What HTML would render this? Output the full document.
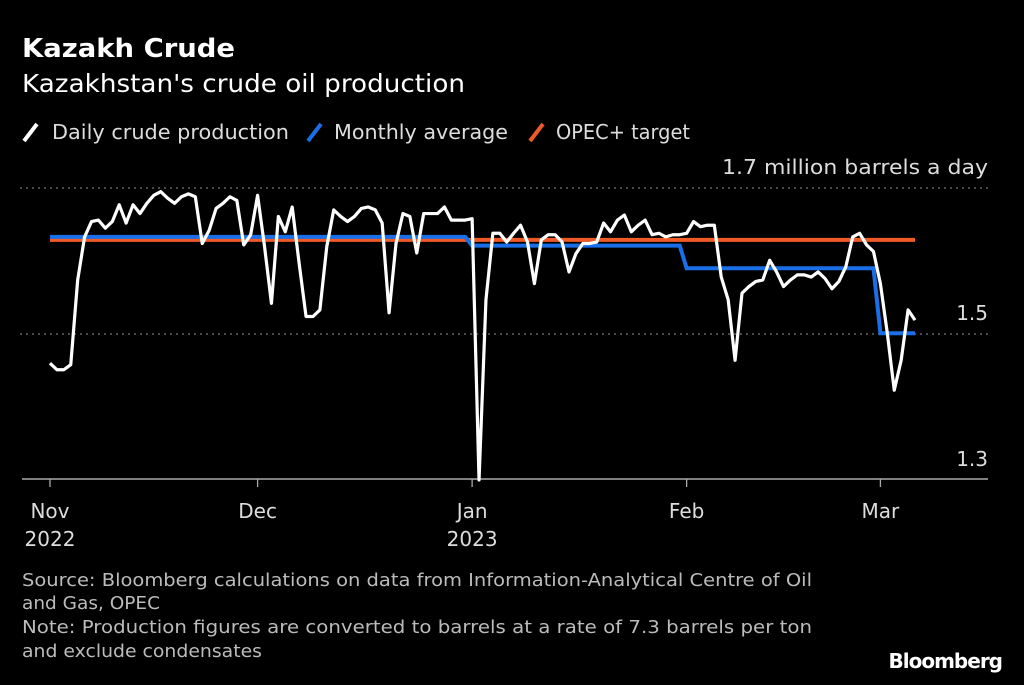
<!DOCTYPE html>
<html><head><meta charset="utf-8"><style>
body{margin:0;background:#000;width:1024px;height:681px;overflow:hidden;font-family:"DejaVu Sans","Liberation Sans",sans-serif;color:#fff}
svg text{font-family:"DejaVu Sans","Liberation Sans",sans-serif}
</style></head><body>
<svg id="chart" width="1024" height="681" viewBox="0 0 1024 681">
<text x="22" y="57" font-size="26" font-weight="bold" fill="#fff" textLength="213" lengthAdjust="spacingAndGlyphs">Kazakh Crude</text>
<text x="22" y="92" font-size="25" fill="#fff" textLength="443" lengthAdjust="spacingAndGlyphs">Kazakhstan's crude oil production</text>
<g>
<line x1="24" y1="141" x2="37" y2="124" stroke="#fff" stroke-width="4"/>
<text x="52" y="139" font-size="20" fill="#ddd" textLength="237" lengthAdjust="spacingAndGlyphs">Daily crude production</text>
<line x1="308" y1="141" x2="321" y2="124" stroke="#1a6fe8" stroke-width="4"/>
<text x="334" y="139" font-size="20" fill="#ddd" textLength="174" lengthAdjust="spacingAndGlyphs">Monthly average</text>
<line x1="530" y1="141" x2="543" y2="124" stroke="#f05a28" stroke-width="4"/>
<text x="556" y="139" font-size="20" fill="#ddd" textLength="134" lengthAdjust="spacingAndGlyphs">OPEC+ target</text>
</g>
<g id="grid"></g>
<g id="plot"></g>
<text font-size="18" fill="#bbb">
<tspan x="22" y="586" textLength="790" lengthAdjust="spacingAndGlyphs">Source: Bloomberg calculations on data from Information-Analytical Centre of Oil</tspan>
<tspan x="22" y="609" textLength="138" lengthAdjust="spacingAndGlyphs">and Gas, OPEC</tspan>
<tspan x="22" y="633" textLength="790" lengthAdjust="spacingAndGlyphs">Note: Production figures are converted to barrels at a rate of 7.3 barrels per ton</tspan>
<tspan x="22" y="657" textLength="240" lengthAdjust="spacingAndGlyphs">and exclude condensates</tspan>
</text>
<text x="1002" y="668" font-size="20" font-weight="bold" fill="#fff" text-anchor="end" letter-spacing="-1">Bloomberg</text>
</svg>
<script>
const daily=[1.460,1.451,1.451,1.458,1.574,1.633,1.654,1.656,1.645,1.654,1.677,1.652,1.677,1.665,1.679,1.690,1.695,1.686,1.679,1.688,1.692,1.688,1.624,1.642,1.672,1.679,1.688,1.683,1.622,1.636,1.690,1.620,1.542,1.661,1.640,1.674,1.597,1.524,1.524,1.533,1.620,1.670,1.661,1.654,1.661,1.672,1.674,1.670,1.652,1.529,1.624,1.665,1.661,1.611,1.665,1.665,1.665,1.674,1.656,1.656,1.656,1.658,1.300,1.547,1.638,1.638,1.626,1.638,1.649,1.626,1.569,1.629,1.636,1.636,1.626,1.585,1.610,1.624,1.624,1.626,1.652,1.640,1.656,1.663,1.640,1.649,1.656,1.636,1.638,1.633,1.636,1.636,1.638,1.654,1.647,1.649,1.649,1.578,1.547,1.464,1.556,1.565,1.572,1.574,1.601,1.585,1.565,1.574,1.581,1.581,1.578,1.585,1.576,1.562,1.572,1.592,1.633,1.638,1.622,1.613,1.569,1.501,1.423,1.464,1.533,1.519];
const monthStarts=[0,30,61,92,120];
const monthlyAvg=[1.633,1.633,1.621,1.590,1.501];
const opecTarget=1.629;
const yTicks=[1.3,1.5,1.7];
const yTickLabels=["1.3","1.5","1.7 million barrels a day"];
const xTickDays=[0,30,61,92,120];
const xTickLabels=["Nov","Dec","Jan","Feb","Mar"];
const xYearLabels=["2022","","2023","",""];
const NS="http://www.w3.org/2000/svg";
const X=d=>50+6.92*d;
const Y=v=>334-(v-1.5)*730;
function mk(tag,attrs,parent){const e=document.createElementNS(NS,tag);for(const k in attrs)e.setAttribute(k,attrs[k]);parent.appendChild(e);return e;}
const grid=document.getElementById('grid'),plot=document.getElementById('plot');
yTicks.forEach((t,i)=>{
  if(t>1.3){const l=mk('line',{x1:20,x2:988,y1:Y(t),y2:Y(t),stroke:'#777','stroke-width':1.3,'stroke-dasharray':'2 4'},grid);
  
  }
  const tx=mk('text',{x:988,y:Y(t)-14,'font-size':20,fill:'#ddd','text-anchor':'end'},grid);
  if(i===2){tx.setAttribute('textLength','266');tx.setAttribute('lengthAdjust','spacingAndGlyphs');}
  tx.textContent=yTickLabels[i];
  
  
});
const base=mk('line',{x1:22,x2:988,y1:479,y2:479,stroke:'#aaa','stroke-width':1.5},grid);


xTickDays.forEach((d,i)=>{
  const tk=mk('line',{x1:X(d),x2:X(d),y1:479,y2:487,stroke:'#aaa','stroke-width':1.3},grid);
  
  
  const t=mk('text',{x:X(d),y:518,'font-size':20,fill:'#ddd','text-anchor':'middle'},grid);
  t.textContent=xTickLabels[i];
  
  
  if(xYearLabels[i]){const y=mk('text',{x:X(d),y:546,'font-size':20,fill:'#ddd','text-anchor':'middle'},grid);
  y.textContent=xYearLabels[i];
  
  }
});
const last=daily.length-1;
const op=mk('line',{x1:X(0),x2:X(last),y1:Y(opecTarget),y2:Y(opecTarget),stroke:'#f05a28','stroke-width':4},plot);


let pts=[];
monthlyAvg.forEach((v,i)=>{const s=monthStarts[i],e=i+1<monthStarts.length?monthStarts[i+1]-1:last;pts.push(X(s)+','+Y(v),X(e)+','+Y(v));});
const ma=mk('polyline',{points:pts.join(' '),fill:'none',stroke:'#1a6fe8','stroke-width':4},plot);


const dl=mk('polyline',{points:daily.map((v,i)=>X(i)+','+Y(v)).join(' '),fill:'none',stroke:'#fff','stroke-width':3.2,'stroke-linejoin':'round'},plot);


</script>
</body></html>
